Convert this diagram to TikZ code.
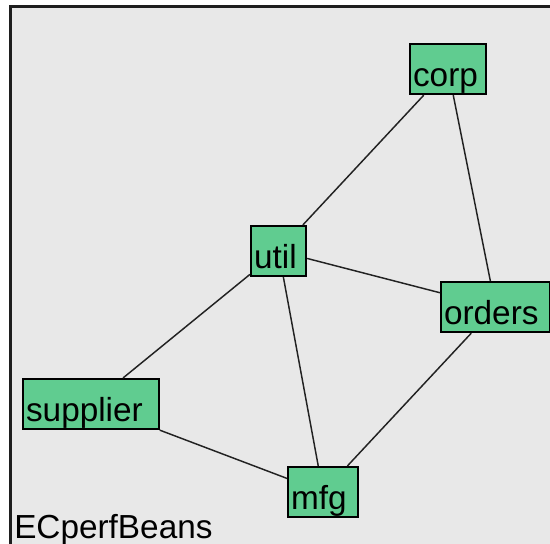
\documentclass[tikz,border=0pt]{standalone}
\usepackage{fontspec}
\setmainfont{Liberation Sans}
\usepackage{tikz}
\usepackage{xcolor}

\definecolor{beangreen}{RGB}{96,204,144}
\definecolor{panelgray}{RGB}{232,232,232}

\tikzset{
  bean/.style={draw=black, line width=1.6pt, fill=beangreen, inner xsep=2.25pt, inner ysep=0pt,
    text depth=5.6pt, text height=31.9pt, align=left, anchor=north west,
    font=\fontsize{25}{25}\selectfont},
  link/.style={draw={rgb,255:red,34;green,34;blue,34}, line width=1.1pt}
}

\begin{document}
\begin{tikzpicture}[x=0.75pt,y=0.75pt,yscale=-1,xscale=1]
\useasboundingbox (0,0) rectangle (550,543);
\clip (0,0) rectangle (550,543);

%Shape: Rectangle [panel]
\fill [white] (0,0) rectangle (550,543);
\draw [fill=panelgray, line width=2.2pt, draw={rgb,255:red,30;green,30;blue,30}] (10.5,6.5) rectangle (580,580);

% Bean Nodes
\node [bean, text width=52.5pt] (corp) at (409,43) {corp};
\node [bean, text width=36.75pt] (util) at (250,225) {util};
\node [bean, text width=77.25pt] (orders) at (440,281) {orders};
\node [bean, text width=97.5pt] (supplier) at (22,378) {supplier};
\node [bean, text width=48pt] (mfg) at (287,466) {mfg};

%Straight Lines
\draw [link] (util) -- (corp) ;
\draw [link] (corp) -- (orders) ;
\draw [link] (util) -- (orders) ;
\draw [link] (util) -- (supplier) ;
\draw [link] (util) -- (mfg) ;
\draw [link] (supplier) -- (mfg) ;
\draw [link] (orders) -- (mfg) ;

% Text Node
\node [anchor=base west, inner sep=0pt, font=\fontsize{25}{25}\selectfont] (title) at (14,538) {ECperfBeans};

\end{tikzpicture}
\end{document}
